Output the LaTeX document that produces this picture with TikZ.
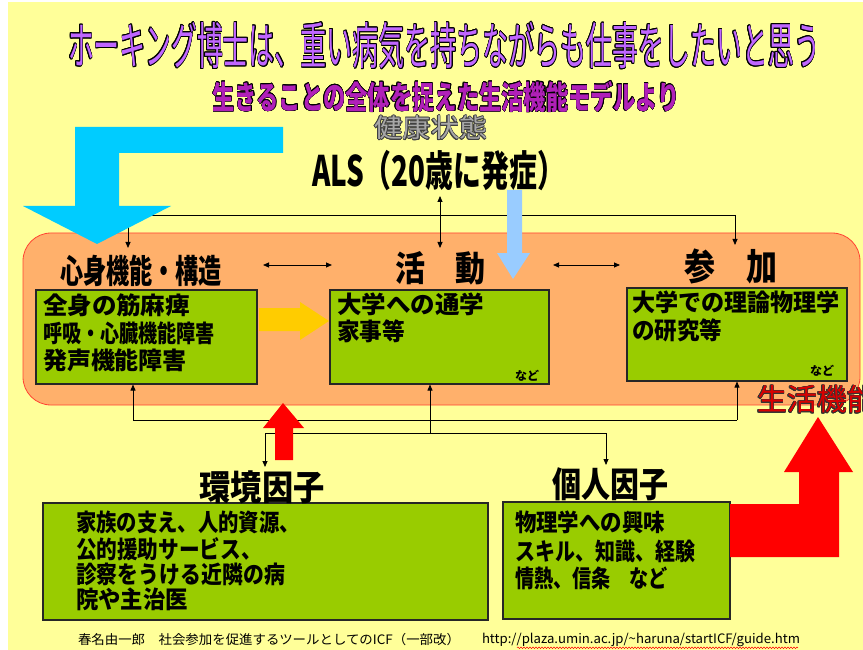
\documentclass[tikz,border=0pt]{standalone}
\usepackage{fontspec}
\usepackage[copies]{contour}
\usetikzlibrary{arrows.meta,decorations.pathmorphing}
\setmainfont{Noto Sans CJK JP}
\newfontfamily\jp{Noto Sans CJK JP}
\newcommand\fitw[2]{\resizebox{#1}{\height}{#2}}
\newcommand\fs[1]{\fontsize{#1}{#1}\selectfont}
\definecolor{bgyellow}{HTML}{FFFF99}
\definecolor{cyanarrow}{HTML}{00CCFF}
\definecolor{lightblue}{HTML}{99CCFF}
\definecolor{lifeorange}{HTML}{FFB06B}
\definecolor{lifeborder}{HTML}{FF4433}
\definecolor{boxgreen}{HTML}{99CC00}
\definecolor{yellowarrow}{HTML}{FFCC00}
\definecolor{redarrow}{HTML}{FF0000}
\definecolor{titlepurple}{HTML}{C066FF}
\definecolor{subpurple}{HTML}{B020B8}
\definecolor{healthgray}{HTML}{A8A8A8}
\tikzset{
  lbl/.style={inner sep=0pt, outer sep=0pt},
  txt/.style={inner sep=0pt, outer sep=0pt, anchor=west, font=\jp\bfseries\fs{24}},
  gbox/.style={draw=black!85, line width=1.1pt, fill=boxgreen, inner sep=0pt},
  conn/.style={draw=black, line width=0.8pt},
  tip/.style={-{Triangle[length=6pt,width=5pt]}},
  tips/.style={{Triangle[length=6pt,width=5pt]}-{Triangle[length=6pt,width=5pt]}},
}
\begin{document}
\begin{tikzpicture}[x=1pt,y=-1pt]
\useasboundingbox (0,0) rectangle (863,650);
\fill[white] (0,0) rectangle (863,650);
\fill[bgyellow] (8,2) rectangle (863,650);

% life-function container
\node[draw=lifeborder, line width=0.8pt, fill=lifeorange, rounded corners=28pt,
      minimum width=837pt, minimum height=172pt, inner sep=0pt] (life) at (441.5,319) {};

% connectors (top)
\coordinate (tl) at (128,215);
\coordinate (tr) at (735,215);
\coordinate (tlE) at (128,248);
\coordinate (trE) at (735,245);
\draw[conn] (tl) -- (tr);
\draw[conn,tip] (tl) -- (tlE);
\draw[conn,tip] (tr) -- (trE);
\coordinate (alsB) at (440,196);
\coordinate (actT) at (440,248);
\draw[conn,tips] (alsB) -- (actT);
\coordinate (h1a) at (263,265);
\coordinate (h1b) at (332,265);
\coordinate (h2a) at (553,265);
\coordinate (h2b) at (620,265);
\draw[conn,tips] (h1a) -- (h1b);
\draw[conn,tips] (h2a) -- (h2b);

% green boxes
\node[gbox, minimum width=221pt, minimum height=94pt] (box1) at (146.5,337) {};
\node[gbox, minimum width=219pt, minimum height=94pt] (box2) at (439.5,337) {};
\node[gbox, minimum width=220pt, minimum height=93pt] (box3) at (737,334.5) {};
\node[gbox, minimum width=445pt, minimum height=117pt] (envbox) at (265.5,561.5) {};
\node[gbox, minimum width=227pt, minimum height=117pt] (persbox) at (616.5,560.5) {};

% connectors (bottom)
\coordinate (bl) at (133,420);
\coordinate (br) at (737,420);
\draw[conn] (bl) -- (br);
\draw[conn,tip] (bl) -- (bl |- box1.south);
\draw[conn,tip] (br) -- (br |- box3.south);
\coordinate (bm) at (430,433);
\draw[conn,tip] (bm) -- (bm |- box2.south);
\coordinate (el) at (265,433);
\coordinate (er) at (606,433);
\coordinate (elE) at (265,467);
\coordinate (erE) at (606,465);
\draw[conn] (el) -- (er);
\draw[conn,tip] (el) -- (elE);
\draw[conn,tip] (er) -- (erE);

% block arrows
\fill[cyanarrow] (283,127) -- (75,127) -- (75,206) -- (23,206) -- (97,244) -- (171,206)
  -- (119,206) -- (119,153) -- (283,153) -- cycle;
\fill[lightblue] (507,190) -- (522,190) -- (522,253) -- (530,253) -- (513,279) -- (497,253)
  -- (507,253) -- cycle;
\fill[yellowarrow] (259,308) -- (300,308) -- (300,302) -- (329,321) -- (300,340) -- (300,331)
  -- (259,331) -- cycle;
\fill[redarrow] (275,460) -- (293,460) -- (293,428) -- (304,428) -- (283,403) -- (263,428)
  -- (275,428) -- cycle;
\fill[redarrow] (730,504) -- (799,504) -- (799,472) -- (784,472) -- (818,417) -- (853,472)
  -- (839,472) -- (839,557) -- (730,557) -- cycle;

% titles
\contourlength{1pt}
\node[lbl, font=\jp\fs{50}] (title) at (444,46)
  {\fitw{752pt}{\textcolor{titlepurple}{\contour{black}{ホーキング博士は、重い病気を持ちながらも仕事をしたいと思う}}}};
\node[lbl, font=\jp\bfseries\fs{32}] (subtitle) at (446,97)
  {\fitw{467pt}{\contourlength{0.5pt}\textcolor{subpurple}{\contour{black}{生きることの全体を捉えた生活機能モデルより}}}};
\node[lbl, font=\jp\fs{26}] (health) at (431,128)
  {\fitw{113pt}{\contourlength{0.6pt}\textcolor{healthgray}{\contour{black!75}{健康状態}}}};
\node[lbl, font=\jp\bfseries\fs{42}] (als) at (438.5,171) {\fitw{253pt}{ALS（20歳に発症）}};

% labels
\node[lbl, font=\jp\bfseries\fs{33}] (body) at (141,271) {\fitw{162pt}{心身機能・構造}};
\node[lbl, font=\jp\bfseries\fs{35}] (act) at (440,268) {\fitw{90pt}{活　動}};
\node[lbl, font=\jp\bfseries\fs{37}] (part) at (731,266) {\fitw{93pt}{参　加}};
\node[lbl, font=\jp\bfseries\fs{35}] (envl) at (262,487) {\fitw{125pt}{環境因子}};
\node[lbl, font=\jp\bfseries\fs{35}] (persl) at (610,484) {\fitw{116pt}{個人因子}};
\node[lbl, anchor=west, font=\jp\fs{30}] (lifel) at (757,400)
  {\contourlength{0.8pt}\textcolor{red!85!black}{\contour{black!80}{生活機能}}};

% box texts
\node[txt] (b1a) at (43,305) {\fitw{147pt}{全身の筋麻痺}};
\node[txt] (b1b) at (43,333) {\fitw{172pt}{呼吸・心臓機能障害}};
\node[txt] (b1c) at (43,360) {\fitw{144pt}{発声機能障害}};
\node[txt] (b2a) at (337,304) {\fitw{147pt}{大学への通学}};
\node[txt] (b2b) at (337,331) {\fitw{68pt}{家事等}};
\node[lbl, font=\jp\bfseries\fs{12}] (b2n) at (527,376) {など};
\node[txt] (b3a) at (632,302) {\fitw{208pt}{大学での理論物理学}};
\node[txt] (b3b) at (632,330) {\fitw{90pt}{の研究等}};
\node[lbl, font=\jp\bfseries\fs{12}] (b3n) at (822,371) {など};
\node[txt] (e1) at (76,522) {\fitw{224pt}{家族の支え、人的資源、}};
\node[txt] (e2) at (76,549) {\fitw{186pt}{公的援助サービス、}};
\node[txt] (e3) at (76,574) {\fitw{209pt}{診察をうける近隣の病}};
\node[txt] (e4) at (76,599) {\fitw{112pt}{院や主治医}};
\node[txt] (p1) at (515,522) {\fitw{150pt}{物理学への興味}};
\node[txt] (p2) at (515,551) {\fitw{180pt}{スキル、知識、経験}};
\node[txt] (p3) at (515,578) {\fitw{153pt}{情熱、信条　など}};

% footer
\node[lbl, anchor=west, font=\jp\fs{13}] (cite) at (78,640)
  {\fitw{382pt}{春名由一郎　社会参加を促進するツールとしてのICF（一部改）}};
\node[lbl, anchor=west, font=\jp\fs{13}] (url) at (482,640)
  {\fitw{318pt}{http://plaza.umin.ac.jp/\textasciitilde haruna/startICF/guide.htm}};
\draw[red, line width=0.5pt, decorate, decoration={snake, amplitude=0.8pt, segment length=3pt}]
  ([xshift=35pt,yshift=-1pt]url.south west) -- ([xshift=-2pt,yshift=-1pt]url.south east);
\end{tikzpicture}
\end{document}
